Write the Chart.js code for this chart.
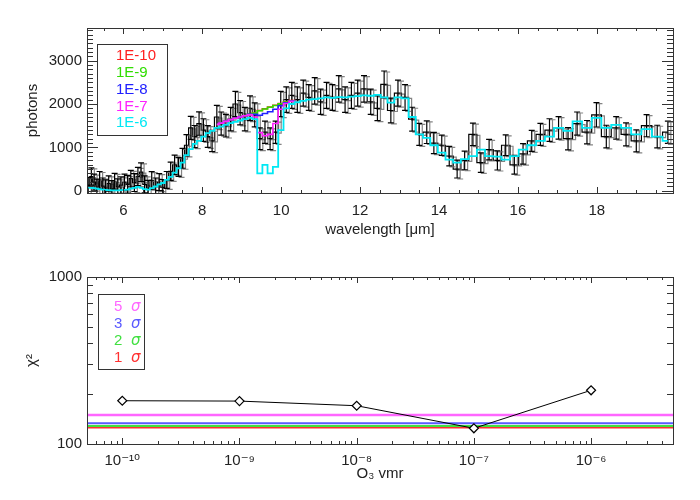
<!DOCTYPE html>
<html>
<head>
<meta charset="utf-8">
<script src="https://cdn.jsdelivr.net/npm/chart.js@4.4.0/dist/chart.umd.min.js"></script>
<style>
    body { margin: 0; background: #fff; }
    #wrap { position: relative; width: 700px; height: 500px; }
    canvas { position: absolute; left: 0; }
</style>
</head>
<body>
<div id="wrap">
    <canvas id="specChart" width="700" height="250" style="top:0"></canvas>
    <canvas id="chiChart" width="700" height="250" style="top:250px"></canvas>
</div>
<script>
// spectrum bins (micron), observed photons and 1-sigma errors
const wavelength = [5.11, 5.19, 5.26, 5.33, 5.40, 5.48, 5.55, 5.63, 5.71, 5.78,
    5.86, 5.94, 6.03, 6.11, 6.19, 6.28, 6.37, 6.45, 6.54, 6.63,
    6.72, 6.82, 6.91, 7.00, 7.10, 7.20, 7.30, 7.40, 7.50, 7.60,
    7.71, 7.81, 7.92, 8.03, 8.14, 8.25, 8.37, 8.48, 8.60, 8.72,
    8.84, 8.96, 9.08, 9.21, 9.33, 9.46, 9.59, 9.72, 9.86, 9.99,
    10.13, 10.27, 10.41, 10.56, 10.70, 10.85, 11.00, 11.15, 11.30, 11.46,
    11.62, 11.78, 11.94, 12.10, 12.27, 12.44, 12.61, 12.78, 12.96, 13.14,
    13.32, 13.50, 13.69, 13.87, 14.07, 14.26, 14.46, 14.65, 14.86, 15.06,
    15.27, 15.48, 15.69, 15.91, 16.13, 16.35, 16.57, 16.80, 17.03, 17.27,
    17.50, 17.75, 17.99, 18.24, 18.49, 18.74, 19.00, 19.26, 19.53, 19.80];

const counts = [120, 330, 200, 90, 250, 110, 60, 170, 40, 220,
    90, 130, 200, 150, 280, 190, 330, 430, 150, 60,
    240, 110, 200, 80, 250, 450, 600, 550, 750, 1050,
    1450, 1250, 1550, 1400, 1250, 1150, 1700, 1550, 1500, 1650,
    2000, 1800, 1650, 1900, 1750, 1200, 1350, 1200, 1350, 2000,
    2100, 2200, 2100, 2250, 2150, 2300, 2050, 2200, 2150, 2350,
    2100, 2200, 2250, 2350, 2050, 1900, 2450, 1850, 2250, 2150,
    1650, 1300, 1350, 1100, 1050, 800, 500, 700, 1300, 650,
    950, 700, 1050, 600, 850, 1150, 1300, 1400, 1450, 1200,
    1550, 1350, 1750, 1250, 1450, 1300, 1150, 1500, 1250, 1350];

const countErr = [190, 200, 185, 180, 195, 185, 190, 175, 195, 180,
    185, 190, 185, 200, 190, 205, 210, 215, 195, 180,
    200, 185, 195, 180, 195, 210, 220, 215, 230, 245,
    265, 255, 270, 260, 250, 245, 270, 265, 260, 270,
    290, 280, 270, 285, 275, 250, 255, 250, 255, 290,
    295, 300, 295, 300, 295, 305, 290, 300, 295, 305,
    295, 300, 300, 305, 290, 285, 310, 285, 300, 295,
    275, 255, 260, 245, 235, 225, 205, 215, 260, 225,
    235, 220, 240, 215, 235, 240, 255, 260, 260, 255,
    265, 270, 280, 260, 260, 265, 255, 255, 260, 255];

// model for O3 vmr 1E-6 over the whole range
const model1e6 = [80, 70, 60, 50, 40, 30, 20, 15, 10, 10,
    10, 15, 20, 30, 50, 70, 90, 70, 40, 30,
    60, 100, 150, 180, 250, 320, 420, 520, 650, 820,
    960, 1080, 1150, 1250, 1330, 1380, 1450, 1480, 1520, 1560,
    1590, 1620, 1650, 1680, 1650, 400, 600, 400, 550, 1400,
    1900, 2000, 2040, 2070, 2100, 2110, 2130, 2150, 2140, 2160,
    2150, 2170, 2180, 2200, 2190, 2210, 2150, 2030, 2150, 2130,
    1700, 1300, 1220, 1050, 880, 720, 650, 730, 800, 950,
    800, 790, 720, 800, 950, 1050, 1150, 1250, 1450, 1380,
    1600, 1450, 1680, 1450, 1520, 1450, 1300, 1420, 1250, 1150];

// lower vmr models only differ from it around the 9.6 micron band
const bandWavelength = [8.37, 8.48, 8.60, 8.72, 8.84, 8.96, 9.08, 9.21, 9.33,
    9.46, 9.59, 9.72, 9.86, 9.99, 10.13, 10.27, 10.41];
const model1e10 = [1530, 1560, 1600, 1640, 1670, 1700, 1730, 1760, 1790,
    1850, 1890, 1930, 1970, 2010, 2050, 2080, 2040];
const model1e9 = [1530, 1560, 1600, 1640, 1670, 1700, 1730, 1760, 1790,
    1845, 1885, 1925, 1965, 2005, 2045, 2075, 2040];
const model1e8 = [1530, 1560, 1600, 1640, 1670, 1700, 1730, 1760, 1760,
    1740, 1780, 1820, 1880, 1960, 2030, 2070, 2040];
const model1e7 = [1530, 1560, 1600, 1640, 1670, 1700, 1730, 1750, 1700,
    1340, 1270, 1300, 1550, 1880, 2010, 2060, 2040];

const modelLabels = ['1E-10', '1E-9', '1E-8', '1E-7', '1E-6'];
const modelColors = ['#ff2020', '#30dd00', '#2020ff', '#ff20ff', '#00e8f4'];

const wavelengthTicks = [6, 8, 10, 12, 14, 16, 18];
const photonTicks = [0, 1000, 2000, 3000];

// chi-square against O3 volume mixing ratio
const vmr = [1e-10, 1e-9, 1e-8, 1e-7, 1e-6];
const chi2 = [181.6, 180.7, 169.5, 124.2, 209.7];
const sigmaLabels = ['5', '3', '2', '1'];
const sigmaChi2 = [149.2, 133.2, 128.2, 125.2];
const sigmaColors = ['#ff66ff', '#5a5aff', '#40e040', '#ff3030'];
const sigmaWidths = [2.5, 2, 2, 1.5];

const vmrTicks = [1e-10, 1e-9, 1e-8, 1e-7, 1e-6];
const chi2Ticks = [100, 1000];

const VMR_MIN = 5e-11, VMR_MAX = 5e-6;

Chart.defaults.font.family = "'Liberation Sans', 'DejaVu Sans', sans-serif";
Chart.defaults.font.size = 15;
Chart.defaults.color = '#222';

const xy = (xs, ys) => xs.map((x, i) => ({ x, y: ys[i] }));
const fixTicks = values => s => { s.ticks = values.map(value => ({ value })); };

const supMap = { '-': '⁻', '0': '⁰', '1': '¹', '2': '²', '3': '³', '4': '⁴', '5': '⁵', '6': '⁶', '7': '⁷', '8': '⁸', '9': '⁹' };
function powerLabel(v) {
    const e = Math.round(Math.log10(v));
    return '10' + String(e).split('').map(c => supMap[c]).join('');
}

// IDL style box: frame with inward ticks on all four sides
function frameTicks(xTicks, yTicks) {
    return {
        id: 'frameTicks',
        afterDraw(chart) {
            const { ctx, chartArea: a, scales: { x, y } } = chart;
            ctx.save();
            ctx.strokeStyle = '#333';
            ctx.lineWidth = 1;
            ctx.strokeRect(a.left + 0.5, a.top + 0.5, a.right - a.left, a.bottom - a.top);
            ctx.beginPath();
            xTicks(x).forEach(([v, major]) => {
                const px = Math.round(x.getPixelForValue(v)) + 0.5;
                const len = major ? 6 : 3;
                ctx.moveTo(px, a.bottom); ctx.lineTo(px, a.bottom - len);
                ctx.moveTo(px, a.top); ctx.lineTo(px, a.top + len);
            });
            yTicks(y).forEach(([v, major]) => {
                const py = Math.round(y.getPixelForValue(v)) + 0.5;
                const len = major ? 11 : 6;
                ctx.moveTo(a.left, py); ctx.lineTo(a.left + len, py);
                ctx.moveTo(a.right, py); ctx.lineTo(a.right - len, py);
            });
            ctx.stroke();
            ctx.restore();
        }
    };
}

function boxLegend(box, items) {
    return {
        id: 'boxLegend',
        afterDraw(chart) {
            const ctx = chart.ctx;
            ctx.save();
            ctx.fillStyle = '#fff';
            ctx.fillRect(box.x, box.y, box.w, box.h);
            ctx.strokeStyle = '#333';
            ctx.lineWidth = 1;
            ctx.strokeRect(box.x + 0.5, box.y + 0.5, box.w, box.h);
            ctx.textBaseline = 'middle';
            ctx.font = "15px 'Liberation Sans', 'DejaVu Sans', sans-serif";
            items.forEach((it, i) => {
                const ty = box.y + box.first + i * box.step;
                ctx.fillStyle = it.color;
                ctx.fillText(it.text, box.x + box.pad, ty);
                if (it.sym) {
                    ctx.font = "italic 15px 'DejaVu Sans', sans-serif";
                    ctx.fillText(it.sym, box.x + box.pad + 17, ty);
                    ctx.font = "15px 'Liberation Sans', 'DejaVu Sans', sans-serif";
                }
            });
            ctx.restore();
        }
    };
}

// error bars for the observed spectrum, drawn with a grey offset copy
const errorBars = {
    id: 'errorBars',
    beforeDatasetDraw(chart, args) {
        if (args.index !== 0) return;
        const ctx = chart.ctx;
        ctx.save();
        ctx.shadowColor = 'rgba(110,110,110,0.85)';
        ctx.shadowOffsetX = 3;
        ctx.shadowOffsetY = 1;
    },
    afterDatasetDraw(chart, args) {
        if (args.index !== 0) return;
        const { ctx, chartArea: a, scales: { x, y } } = chart;
        ctx.beginPath();
        ctx.rect(a.left, a.top, a.right - a.left, a.bottom - a.top);
        ctx.clip();
        ctx.strokeStyle = '#000';
        ctx.lineWidth = 1.2;
        ctx.beginPath();
        wavelength.forEach((w, i) => {
            const px = x.getPixelForValue(w);
            const lo = y.getPixelForValue(counts[i] - countErr[i]);
            const hi = y.getPixelForValue(counts[i] + countErr[i]);
            ctx.moveTo(px, lo); ctx.lineTo(px, hi);
            ctx.moveTo(px - 3, lo); ctx.lineTo(px + 3, lo);
            ctx.moveTo(px - 3, hi); ctx.lineTo(px + 3, hi);
        });
        ctx.stroke();
        ctx.restore();
    }
};

function stepLine(label, xs, ys, color, width, order) {
    return {
        label, data: xy(xs, ys), stepped: 'middle',
        borderColor: color, borderWidth: width, pointRadius: 0, order
    };
}

function createSpectrumChart() {
    const bandModels = [model1e10, model1e9, model1e8, model1e7];
    const datasets = [stepLine('data', wavelength, counts, '#000', 1.2, 10)];
    bandModels.forEach((m, i) => datasets.push(stepLine(modelLabels[i], bandWavelength, m, modelColors[i], 1.6, 5 - i)));
    datasets.push(stepLine(modelLabels[4], wavelength, model1e6, modelColors[4], 1.8, 1));

    new Chart(document.getElementById('specChart'), {
        type: 'line',
        data: { datasets },
        options: {
            responsive: false,
            animation: false,
            layout: { padding: { left: 0, right: 27, top: 28, bottom: 0 } },
            plugins: { legend: { display: false }, tooltip: { enabled: false } },
            scales: {
                x: {
                    type: 'linear', min: 5.08, max: 19.93,
                    grid: { display: false, drawTicks: false }, border: { display: false },
                    ticks: { padding: 9, maxRotation: 0, autoSkip: false },
                    afterBuildTicks: fixTicks(wavelengthTicks),
                    title: { display: true, text: 'wavelength [μm]', padding: { top: 0, bottom: 11 } },
                    afterFit: s => { s.height = 57; }
                },
                y: {
                    min: -50, max: 3750,
                    grid: { display: false, drawTicks: false }, border: { display: false },
                    ticks: { padding: 5, autoSkip: false, callback: v => String(v) },
                    afterBuildTicks: fixTicks(photonTicks),
                    title: { display: true, text: 'photons', padding: { top: 24, bottom: 0 } },
                    afterFit: s => { s.width = 87; }
                }
            }
        },
        plugins: [
            errorBars,
            frameTicks(
                x => { const t = []; for (let v = 5.5; v < x.max; v += 0.5) t.push([v, v % 2 === 0]); return t; },
                y => { const t = []; for (let v = 0; v < y.max; v += 100) t.push([v, v % 1000 === 0]); return t; }
            ),
            boxLegend({ x: 97, y: 44, w: 70, h: 91, pad: 19, first: 12, step: 16.8 },
                modelLabels.map((t, i) => ({ text: t, color: modelColors[i] })))
        ]
    });
}

function createChiChart() {
    const datasets = [];
    sigmaChi2.forEach((lvl, i) => {
        datasets.push({
            label: sigmaLabels[i] + ' σ', data: xy([VMR_MIN, VMR_MAX], [lvl, lvl]),
            borderColor: sigmaColors[i], borderWidth: sigmaWidths[i], pointRadius: 0, order: 2 + i
        });
    });
    datasets.push({
        label: 'chi2', data: xy(vmr, chi2), borderColor: '#000', borderWidth: 1,
        pointStyle: 'rectRot', pointRadius: 4.5, pointBackgroundColor: '#fff',
        pointBorderColor: '#000', pointBorderWidth: 1.2, order: 0
    });

    new Chart(document.getElementById('chiChart'), {
        type: 'line',
        data: { datasets },
        options: {
            responsive: false,
            animation: false,
            layout: { padding: { left: 0, right: 27, top: 27, bottom: 0 } },
            plugins: { legend: { display: false }, tooltip: { enabled: false } },
            scales: {
                x: {
                    type: 'logarithmic', min: VMR_MIN, max: VMR_MAX,
                    grid: { display: false, drawTicks: false }, border: { display: false },
                    ticks: { autoSkip: false, maxRotation: 0, padding: 8, callback: v => powerLabel(v) },
                    afterBuildTicks: fixTicks(vmrTicks),
                    title: { display: true, text: 'O₃ vmr', padding: { top: 0, bottom: 17 } },
                    afterFit: s => { s.height = 56; }
                },
                y: {
                    type: 'logarithmic', min: 100, max: 1000,
                    grid: { display: false, drawTicks: false }, border: { display: false },
                    ticks: { autoSkip: false, padding: 5, callback: v => String(v) },
                    afterBuildTicks: fixTicks(chi2Ticks),
                    title: { display: true, text: 'χ²', padding: { top: 23, bottom: 0 } },
                    afterFit: s => { s.width = 87; }
                }
            }
        },
        plugins: [
            frameTicks(
                () => {
                    const t = [];
                    for (let e = -11; e <= -6; e++) {
                        for (let m = 1; m <= 9; m++) {
                            const v = m * Math.pow(10, e);
                            if (v >= VMR_MIN && v <= VMR_MAX) t.push([v, m === 1]);
                        }
                    }
                    return t;
                },
                () => { const t = []; for (let v = 100; v <= 1000; v += 100) t.push([v, v === 100 || v === 1000]); return t; }
            ),
            boxLegend({ x: 98, y: 44, w: 46, h: 75, pad: 16, first: 12.7, step: 17 },
                sigmaLabels.map((t, i) => ({ text: t, sym: 'σ', color: sigmaColors[i] })))
        ]
    });
}

createSpectrumChart();
createChiChart();
</script>
</body>
</html>
